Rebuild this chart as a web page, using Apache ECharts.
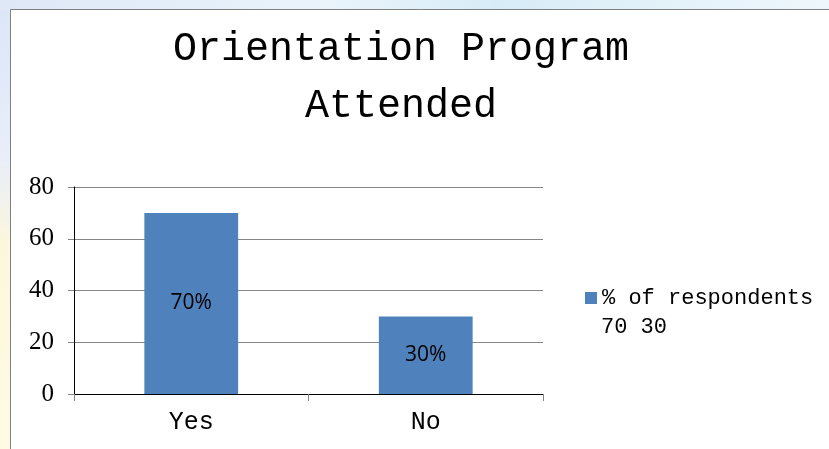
<!DOCTYPE html>
<html><head><meta charset="utf-8">
<script src="https://cdn.jsdelivr.net/npm/echarts@6/dist/echarts.min.js"></script>
<style>
html,body{margin:0;padding:0;width:829px;height:449px;overflow:hidden;}
body{background:linear-gradient(180deg,#dbe6f7 0%,#e8eefa 35%,#fcf7dc 55%,#fffbe3 100%);}
#top{position:absolute;left:0;top:0;width:829px;height:10px;background:linear-gradient(90deg,#dfe8f7 0%,#e9f4fb 40%,#d8ecf7 60%,#eef7fc 100%);}
#chart{position:absolute;left:0;top:0;width:829px;height:449px;}
</style></head>
<body><div id="top"></div><div id="chart"></div>
<script>
const titleLines = ['Orientation Program', 'Attended'];
const categories = ['Yes', 'No'];
const values = [70, 30];
const dataLabels = ['70%', '30%'];
const seriesName = '% of respondents';
const legendExtra = '70 30';
const yMin = 0, yMax = 80, yInterval = 20;

const chart = echarts.init(document.getElementById('chart'), null, {renderer: 'canvas'});
chart.setOption({
  backgroundColor: 'transparent',
  animation: false,
  graphic: [
    {type: 'rect', z: -10, shape: {x: 10.5, y: 9.5, width: 830, height: 450},
     style: {fill: '#ffffff', stroke: '#808080', lineWidth: 1}},
    {type: 'text', left: 601, top: 316,
     style: {text: legendExtra, font: '22px "Liberation Mono"', fill: '#000'}}
  ],
  title: {
    text: titleLines.join('\n'),
    left: 396, top: 16, textAlign: 'center',
    textStyle: {fontFamily: 'Liberation Mono', fontSize: 40, fontWeight: 'normal', color: '#000', lineHeight: 57}
  },
  legend: {
    left: 580, top: 282, itemWidth: 12, itemHeight: 12, orient: 'vertical',
    icon: 'rect',
    textStyle: {fontFamily: 'Liberation Mono', fontSize: 22, color: '#000'},
    data: [seriesName]
  },
  grid: {left: 74, top: 187, width: 469, height: 207, containLabel: false},
  xAxis: {
    type: 'category', data: categories,
    axisLine: {lineStyle: {color: '#000', width: 1}},
    axisTick: {show: true, length: 7, lineStyle: {color: '#868686'}},
    axisLabel: {margin: 16, fontFamily: 'Liberation Mono', fontSize: 25, color: '#000'}
  },
  yAxis: {
    type: 'value', min: yMin, max: yMax, interval: yInterval,
    axisLine: {show: true, lineStyle: {color: '#000', width: 1}},
    axisTick: {show: true, length: 6, lineStyle: {color: '#868686'}},
    splitLine: {lineStyle: {color: '#868686', width: 1}},
    axisLabel: {margin: 20, fontFamily: 'Liberation Serif', fontSize: 25, color: '#000'}
  },
  series: [{
    name: seriesName, type: 'bar', data: values, barWidth: '40%',
    itemStyle: {color: '#4f81bd'},
    label: {show: true, position: 'inside', color: '#000', fontFamily: 'Open Sans', fontSize: 21,
      formatter: p => dataLabels[p.dataIndex]}
  }]
});
</script></body></html>
